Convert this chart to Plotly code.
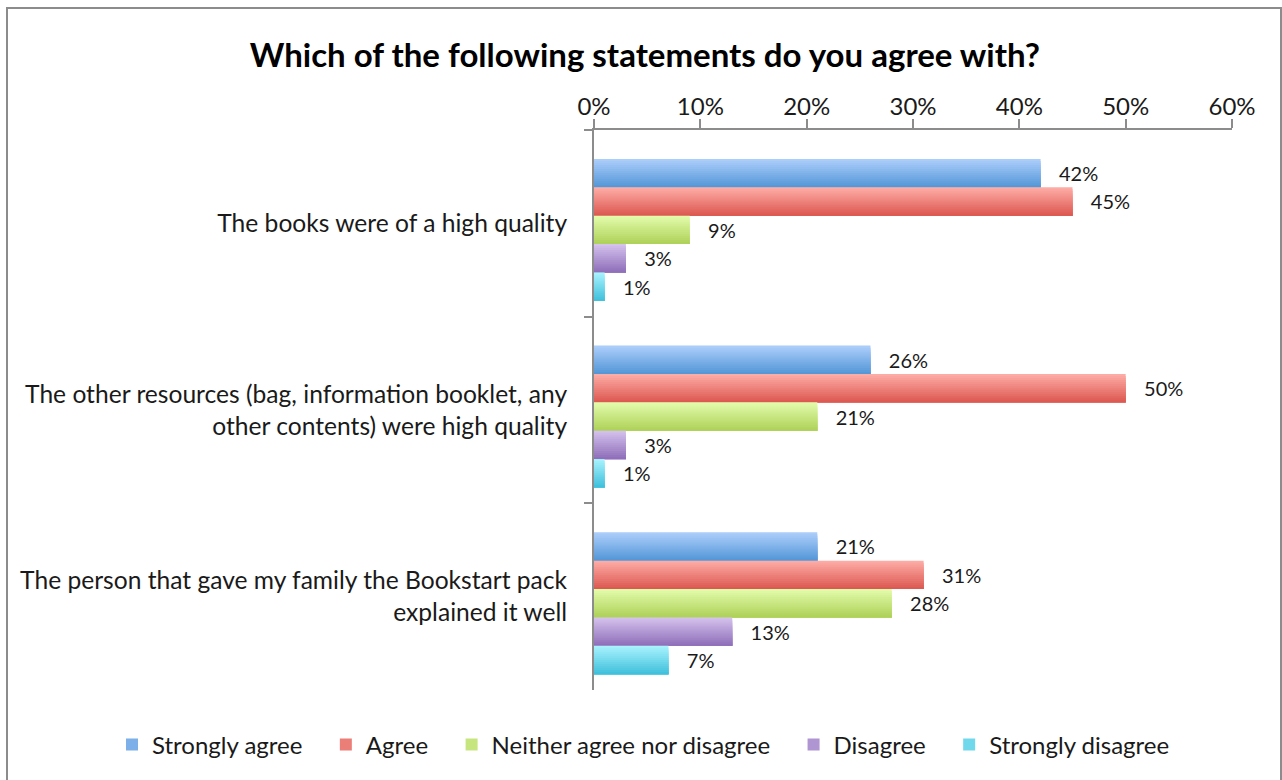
import plotly.graph_objects as go

# Survey statements (category axis) and response shares in percent
statements = [
    "The books were of a high quality",
    "The other resources (bag, information booklet, any<br>other contents) were high quality",
    "The person that gave my family the Bookstart pack<br>explained it well",
]
responses = ["Strongly agree", "Agree", "Neither agree nor disagree", "Disagree", "Strongly disagree"]

strongly_agree = [42, 26, 21]
agree = [45, 50, 31]
neither = [9, 21, 28]
disagree = [3, 3, 13]
strongly_disagree = [1, 1, 7]

series_values = [strongly_agree, agree, neither, disagree, strongly_disagree]

x_tick_values = [0, 10, 20, 30, 40, 50, 60]
x_tick_labels = ["0%", "10%", "20%", "30%", "40%", "50%", "60%"]

# Top-to-bottom gradient colours for each response bar
gradients = [
    ("#abcdfa", "#5598d8"),
    ("#fdaba5", "#dc5a52"),
    ("#e2fbaa", "#afd25a"),
    ("#d3c0ec", "#9070ba"),
    ("#a6f2fd", "#42c1dc"),
]

FONT = "Lato"
N_STRIPS = 14
BAR_H = 0.152
GROUP_START = -2.5 * BAR_H + 0.035
NBSP = "\u00a0"


def hex_to_rgb(h):
    h = h.lstrip("#")
    return tuple(int(h[i:i + 2], 16) for i in (0, 2, 4))


def blend(c1, c2, t):
    a, b = hex_to_rgb(c1), hex_to_rgb(c2)
    return "rgb({},{},{})".format(*[round(a[i] + (b[i] - a[i]) * t) for i in range(3)])


fig = go.Figure()

for j, (name, vals) in enumerate(zip(responses, series_values)):
    top, bottom = gradients[j]
    bar_top = GROUP_START + j * BAR_H
    step = BAR_H / N_STRIPS
    # each bar is built from stacked overlays that shrink towards the bottom,
    # giving a vertical colour gradient without seams
    for k in range(N_STRIPS):
        t = k / (N_STRIPS - 1)
        kwargs = {}
        if k == 0:
            kwargs = dict(
                text=["%d%%" % v for v in vals],
                texttemplate=NBSP * 3 + "%{text}",
                textposition="outside",
                textfont=dict(family=FONT, size=20, color="#1a1a1a"),
                cliponaxis=False,
                constraintext="none",
            )
        fig.add_trace(go.Bar(
            x=vals,
            y=statements,
            orientation="h",
            name=name + NBSP * 3,
            legendgroup=name,
            showlegend=(k == N_STRIPS // 2),
            offset=bar_top + k * step,
            width=BAR_H - k * step,
            marker=dict(color=blend(top, bottom, t), line=dict(width=0)),
            hoverinfo="skip",
            **kwargs,
        ))

W, H = 1282, 780
ML, MR, MT, MB = 594, 50, 130, 90
PW, PH = W - ML - MR, H - MT - MB

fig.update_layout(
    width=W,
    height=H,
    margin=dict(l=ML, r=MR, t=MT, b=MB, autoexpand=False),
    paper_bgcolor="white",
    plot_bgcolor="white",
    barmode="overlay",
    title=dict(
        text="<b>Which of the following statements do you agree with?</b>",
        font=dict(family=FONT, size=33, color="#000000"),
        x=0.503, xanchor="center",
        y=1 - 55 / H, yanchor="middle",
    ),
    font=dict(family=FONT, color="#1a1a1a"),
    legend=dict(
        orientation="h",
        xref="paper", yref="paper",
        x=(112 - ML) / PW, xanchor="left",
        y=-(745 - (H - MB)) / PH, yanchor="middle",
        font=dict(family=FONT, size=24, color="#1a1a1a"),
        itemwidth=30,
        traceorder="normal",
    ),
    xaxis=dict(
        side="top",
        range=[0, 60],
        tickmode="array",
        tickvals=x_tick_values,
        ticktext=x_tick_labels,
        showgrid=False,
        zeroline=False,
        showline=True,
        linecolor="#8c8c8c",
        linewidth=2,
        ticks="outside",
        ticklen=9,
        tickwidth=2,
        tickcolor="#8c8c8c",
        ticklabelstandoff=-6,
        tickfont=dict(family=FONT, size=24, color="#1a1a1a"),
        automargin=False,
        fixedrange=True,
    ),
    yaxis=dict(
        type="category",
        autorange="reversed",
        showgrid=False,
        zeroline=False,
        showline=True,
        linecolor="#8c8c8c",
        linewidth=2,
        ticks="outside",
        tickson="boundaries",
        ticklen=8,
        tickwidth=2,
        tickcolor="#8c8c8c",
        ticklabelstandoff=20,
        tickfont=dict(family=FONT, size=24.6, color="#1a1a1a"),
        automargin=False,
        fixedrange=True,
    ),
    shapes=[
        dict(
            type="rect",
            xref="paper", yref="paper",
            x0=(7 - ML) / PW, x1=(1281 - ML) / PW,
            y0=(H - MB - 792) / PH, y1=(H - MB - 8) / PH,
            line=dict(color="#8c8c8c", width=2),
            fillcolor="rgba(0,0,0,0)",
            layer="below",
        )
    ],
)

fig.write_html("out.html")
